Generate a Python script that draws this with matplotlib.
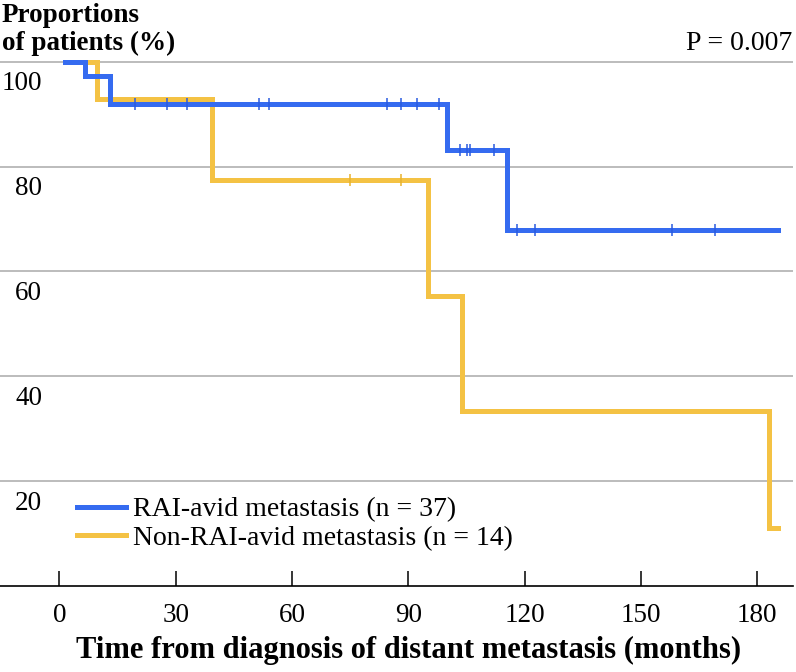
import numpy as np
import matplotlib
matplotlib.use("Agg")
import matplotlib.pyplot as plt
from matplotlib.transforms import ScaledTranslation

# Kaplan-Meier steps (months, % of patients)
rai_t = [1.5, 6.6, 13.1, 100.0, 115.5, 185.3]
rai_s = [100.0, 97.3, 91.9, 83.2, 67.9, 67.9]
rai_cens = [19.5, 27.7, 33.0, 51.5, 54.1, 84.6, 88.2, 92.3, 97.9,
            103.2, 105.1, 105.8, 112.2, 117.9, 122.6, 158.0, 169.2]

non_t = [1.5, 9.6, 39.4, 95.0, 103.8, 182.9, 185.4]
non_s = [100.0, 92.9, 77.4, 55.4, 33.3, 11.1, 11.1]
non_cens = [74.9, 88.2]

xticks = [0, 30, 60, 90, 120, 150, 180]
yticks = [20, 40, 60, 80, 100]

BLUE, GOLD = "#356bf0", "#f4c244"
W, H, DPI = 796, 672, 100

plt.rcParams.update({"font.family": "Liberation Serif", "font.size": 19})
fig = plt.figure(figsize=(W / DPI, H / DPI), dpi=DPI)
ax = fig.add_axes([0, 86 / H, 793 / W, (586 - 40) / H])
ax.set_xlim(-15.3, 189.2)
ax.set_ylim(0, 100 + (61.7 - 40) / 5.243)


def surv_at(t, times, surv):
    i = np.searchsorted(times, t, side="right") - 1
    return np.asarray(surv)[i]


for y in yticks:
    ax.axhline(y, color="#b0b0b0", lw=1.2, zorder=1)

ax.step(non_t, non_s, where="post", color=GOLD, lw=3.6, zorder=3, solid_joinstyle="miter",
        label="Non-RAI-avid metastasis (n = 14)")
ax.plot(non_cens, surv_at(non_cens, non_t, non_s), ls="none", marker="|", ms=8, mew=1.1,
        color="#e8b32e", zorder=4)
ax.step(rai_t, rai_s, where="post", color=BLUE, lw=3.6, zorder=5, solid_joinstyle="miter",
        label="RAI-avid metastasis (n = 37)")
ax.plot(rai_cens, surv_at(rai_cens, rai_t, rai_s), ls="none", marker="|", ms=8, mew=1.1,
        color="#2a5be0", zorder=6)

for s in ("top", "right", "left"):
    ax.spines[s].set_visible(False)
ax.spines["bottom"].set_linewidth(1.2)

ax.set_xticks(xticks)
ax.tick_params(axis="x", direction="in", length=11, width=1.1, pad=12, labelsize=19.5)
ax.set_yticks(yticks)
ax.tick_params(axis="y", length=0, pad=-30.5, labelsize=19.5)
off = ScaledTranslation(0, -19 / DPI, fig.dpi_scale_trans)
for lab in ax.get_yticklabels():
    lab.set_transform(lab.get_transform() + off)

h, l = ax.get_legend_handles_labels()
ax.legend(h[::-1], l[::-1], loc="upper left", bbox_to_anchor=(77 / 793, (586 - 497) / 546),
          frameon=False, fontsize=20, handlelength=1.75, handletextpad=0.28,
          labelspacing=0.1, borderaxespad=0, borderpad=0)

fig.text(2 / W, 1 - 15 / H, "Proportions", ha="left", va="center", fontsize=19.5, fontweight="bold")
fig.text(2 / W, 1 - 43 / H, "of patients (%)", ha="left", va="center", fontsize=19.5, fontweight="bold")
fig.text(792 / W, 1 - 43 / H, "P = 0.007", ha="right", va="center", fontsize=20)
fig.text(409 / W, 1 - 650 / H, "Time from diagnosis of distant metastasis (months)",
         ha="center", va="center", fontsize=22, fontweight="bold")

fig.savefig("out.png", dpi=DPI, facecolor="white")
